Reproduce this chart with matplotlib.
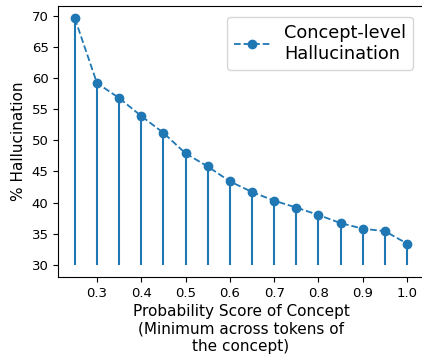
import matplotlib
matplotlib.use("Agg")
import matplotlib.pyplot as plt

# hallucination rate vs. minimum token probability threshold
thresholds = [0.25, 0.30, 0.35, 0.40, 0.45, 0.50, 0.55, 0.60,
              0.65, 0.70, 0.75, 0.80, 0.85, 0.90, 0.95, 1.00]
pct_halluc = [69.6, 59.2, 56.8, 53.9, 51.2, 47.9, 45.8, 43.4,
              41.7, 40.3, 39.2, 38.0, 36.7, 35.8, 35.4, 33.4]
baseline = 30
xticks = [0.3, 0.4, 0.5, 0.6, 0.7, 0.8, 0.9, 1.0]

fig = plt.figure(figsize=(4.22, 3.58), dpi=100)
ax = fig.add_axes([0.138, 0.226, 0.866, 0.757])
# the frame runs off the right edge of the canvas
ax.spines["right"].set_visible(False)

ax.vlines(thresholds, baseline, pct_halluc, color="tab:blue", lw=1.5)
ax.plot(thresholds, pct_halluc, "o--", color="tab:blue", ms=6, lw=1.3,
        label="Concept-level\nHallucination")

ax.set_xticks(xticks)
ax.tick_params(labelsize=9.5)
ax.set_ylabel("% Hallucination", fontsize=11)
ax.set_xlabel("Probability Score of Concept\n(Minimum across tokens of\nthe concept)",
              fontsize=11, labelpad=3)
ax.legend(loc="upper right", fontsize=12.8, borderaxespad=0.6)

fig.savefig("out.png", dpi=100)
